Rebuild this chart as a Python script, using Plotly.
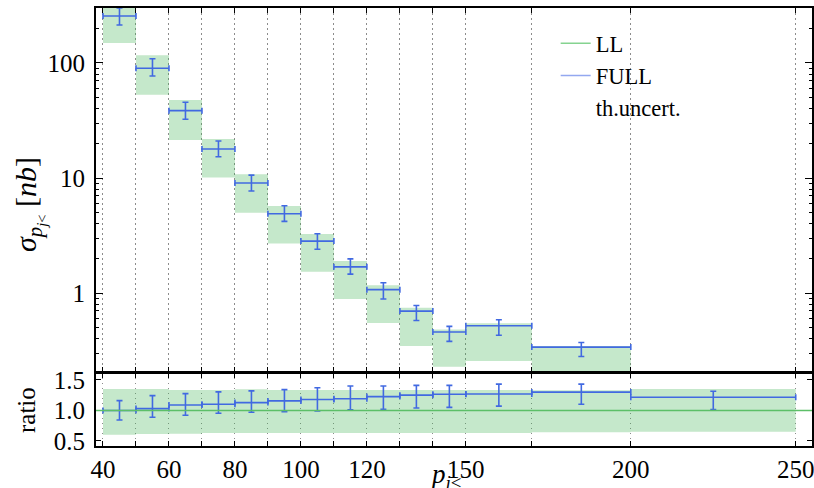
import plotly.graph_objects as go

# ---------------- data ----------------
edges = [40, 50, 60, 70, 80, 90, 100, 110, 120, 130, 140, 150, 170, 200, 250]

full_xsec = [256, 90, 38.5, 17.9, 9.06, 4.89, 2.83, 1.69, 1.07, 0.697, 0.458, 0.52, 0.339, 0.12]
full_hi = [301, 109, 45.5, 21.0, 10.6, 5.74, 3.28, 1.98, 1.23, 0.78, 0.513, 0.586, 0.372, 0.135]
full_lo = [214, 77, 32.4, 15.3, 7.7, 4.2, 2.40, 1.46, 0.887, 0.578, 0.38, 0.43, 0.281, 0.105]

band_lo = [149, 53, 21.4, 10.1, 5.0, 2.69, 1.53, 0.887, 0.548, 0.346, 0.229, 0.256, 0.16, 0.064]
band_hi = [345, 117, 47.6, 21.8, 10.8, 5.7, 3.26, 1.90, 1.17, 0.745, 0.483, 0.545, 0.346, 0.134]

ratio_val = [1.00, 1.03, 1.09, 1.10, 1.128, 1.156, 1.18, 1.19, 1.226, 1.25, 1.266, 1.27, 1.30, 1.216]
ratio_hi = [1.16, 1.243, 1.275, 1.303, 1.32, 1.34, 1.37, 1.40, 1.40, 1.41, 1.41, 1.43, 1.43, 1.315]
ratio_lo = [0.844, 0.889, 0.921, 0.954, 0.97, 0.98, 0.99, 1.01, 1.02, 1.04, 1.05, 1.07, 1.10, 1.013]

rband_lo = [0.603, 0.615, 0.62, 0.631, 0.631, 0.631, 0.631, 0.631, 0.631, 0.631, 0.631, 0.631, 0.643, 0.652]
rband_hi = [1.352, 1.352, 1.336, 1.336, 1.345, 1.336, 1.336, 1.336, 1.336, 1.336, 1.336, 1.336, 1.33, 1.352]

x_labels = {40: "40", 60: "60", 80: "80", 100: "100", 120: "120", 150: "150", 200: "200", 250: "250"}
y_tickvals = [1, 10, 100]
y_ticktext = ["1", "10", "100"]
y_minor = [0.3, 0.4, 0.5, 0.6, 0.7, 0.8, 0.9, 2, 3, 4, 5, 6, 7, 8, 9,
           20, 30, 40, 50, 60, 70, 80, 90, 200, 300]
r_tickvals = [0.5, 1.0, 1.5]
r_ticktext = ["0.5", "1.0", "1.5"]

# ---------------- derived ----------------
centers = [(a + b) / 2 for a, b in zip(edges[:-1], edges[1:])]
halfw = [(b - a) / 2 for a, b in zip(edges[:-1], edges[1:])]


def boxes(lo, hi):
    xs, ys = [], []
    for a, b, l, h in zip(edges[:-1], edges[1:], lo, hi):
        xs += [a, b, b, a, a, None]
        ys += [l, l, h, h, l, None]
    return xs, ys


BAND = "rgba(62,178,82,0.30)"
BLUE = "#4169e1"
GREEN = "#5cbf68"
FONT = "Liberation Serif"

fig = go.Figure()

bx, by = boxes(band_lo, band_hi)
fig.add_trace(go.Scatter(x=bx, y=by, fill="toself", fillcolor=BAND, mode="lines",
                         line=dict(width=0), hoverinfo="skip", showlegend=False,
                         xaxis="x", yaxis="y"))
rbx, rby = boxes(rband_lo, rband_hi)
fig.add_trace(go.Scatter(x=rbx, y=rby, fill="toself", fillcolor=BAND, mode="lines",
                         line=dict(width=0), hoverinfo="skip", showlegend=False,
                         xaxis="x2", yaxis="y2"))

err_up = [h - v for h, v in zip(full_hi, full_xsec)]
err_dn = [v - l for v, l in zip(full_xsec, full_lo)]
fig.add_trace(go.Scatter(
    x=centers, y=full_xsec, mode="markers", marker=dict(size=0.1, color=BLUE),
    error_x=dict(type="data", array=halfw, symmetric=True, color=BLUE, thickness=1.6, width=3),
    error_y=dict(type="data", array=err_up, arrayminus=err_dn, symmetric=False,
                 color=BLUE, thickness=1.6, width=3),
    showlegend=False, xaxis="x", yaxis="y"))

r_up = [h - v for h, v in zip(ratio_hi, ratio_val)]
r_dn = [v - l for v, l in zip(ratio_val, ratio_lo)]
fig.add_trace(go.Scatter(
    x=centers, y=ratio_val, mode="markers", marker=dict(size=0.1, color=BLUE),
    error_x=dict(type="data", array=halfw, symmetric=True, color=BLUE, thickness=1.6, width=3),
    error_y=dict(type="data", array=r_up, arrayminus=r_dn, symmetric=False,
                 color=BLUE, thickness=1.6, width=3),
    showlegend=False, xaxis="x2", yaxis="y2"))

# LL reference line in ratio panel
fig.add_shape(type="line", xref="x2 domain", yref="y2", x0=0, x1=1, y0=1, y1=1,
              line=dict(color=GREEN, width=1.5))

# legend entries
fig.add_trace(go.Scatter(x=[None], y=[None], mode="lines", name="LL",
                         line=dict(color="#85d390", width=1.5)))
fig.add_trace(go.Scatter(x=[None], y=[None], mode="lines", name="FULL",
                         line=dict(color="#93a8f0", width=1.5)))
fig.add_trace(go.Scatter(x=[None], y=[None], mode="lines", name="th.uncert.",
                         line=dict(color="rgba(0,0,0,0)", width=1.5)))

xaxis_common = dict(
    range=[37.88, 254.93], tickmode="array", tickvals=edges,
    ticks="inside", ticklen=5, tickcolor="black", tickwidth=1,
    mirror="ticks", showline=True, linecolor="black", linewidth=2,
    showgrid=True, gridcolor="#8c8c8c", griddash="1.5px,3.5px", gridwidth=1, zeroline=False,
)

fig.update_layout(
    width=814, height=488,
    margin=dict(l=96, r=0, t=8, b=42),
    paper_bgcolor="white", plot_bgcolor="white",
    font=dict(family=FONT, size=25, color="black"),
    xaxis=dict(**xaxis_common, anchor="y", matches="x2", showticklabels=False),
    xaxis2=dict(**xaxis_common, anchor="y2",
                ticktext=[x_labels.get(e, "") for e in edges], ticklabelstandoff=0,
                ticklabeloverflow="allow"),
    yaxis=dict(domain=[0.168, 1], type="log", range=[-0.69, 2.478], anchor="x",
               tickmode="array", tickvals=y_tickvals, ticktext=y_ticktext,
               ticks="inside", ticklen=7, tickcolor="black", mirror="ticks",
               showline=True, linecolor="black", linewidth=2, showgrid=False, zeroline=False,
               ticklabelstandoff=4,
               minor=dict(tickmode="array", tickvals=y_minor, ticks="inside", ticklen=3,
                          tickcolor="black", showgrid=False)),
    yaxis2=dict(domain=[0, 0.167], range=[0.418, 1.615], anchor="x2",
                tickmode="array", tickvals=r_tickvals, ticktext=r_ticktext,
                ticks="inside", ticklen=5, tickcolor="black", mirror="ticks",
                showline=True, linecolor="black", linewidth=2, showgrid=False, zeroline=False,
                ticklabelstandoff=4),
    legend=dict(x=0.642, y=0.968, xanchor="left", yanchor="top", bgcolor="rgba(0,0,0,0)",
                font=dict(family=FONT, size=22.5), tracegroupgap=0),
    showlegend=True,
)

fig.add_annotation(text="<i>σ</i><sub><i>p</i><sub><i>j</i>&lt;</sub></sub> [<i>nb</i>]",
                   xref="paper", yref="paper", x=0, y=0.55, xshift=-67,
                   xanchor="center", yanchor="middle", textangle=-90, showarrow=False,
                   font=dict(family=FONT, size=30))
fig.add_annotation(text="ratio", xref="paper", yref="paper", x=0, y=0.0822, xshift=-69,
                   xanchor="center", yanchor="middle", textangle=-90, showarrow=False,
                   font=dict(family=FONT, size=25))
fig.add_annotation(text="<i>p</i><sub><i>j</i>&lt;</sub>", xref="paper", yref="paper",
                   x=0.488, y=0, yshift=-30, xanchor="center", yanchor="middle",
                   showarrow=False, font=dict(family=FONT, size=27))

fig.write_html("out.html")
